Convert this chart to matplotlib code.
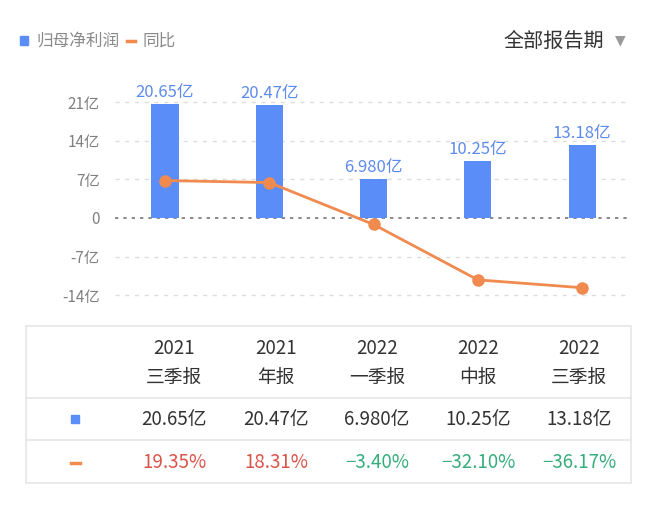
import matplotlib
matplotlib.use("Agg")
import matplotlib.pyplot as plt
from matplotlib.ticker import FuncFormatter
from matplotlib.patches import Rectangle
from matplotlib.lines import Line2D

plt.rcParams["font.family"] = ["Noto Sans CJK SC", "DejaVu Sans"]

years = ["2021", "2021", "2022", "2022", "2022"]
periods = ["三季报", "年报", "一季报", "中报", "三季报"]
profit = [20.65, 20.47, 6.980, 10.25, 13.18]          # 亿
profit_labels = ["20.65亿", "20.47亿", "6.980亿", "10.25亿", "13.18亿"]
yoy = [19.35, 18.31, -3.40, -32.10, -36.17]           # %
yoy_labels = ["19.35%", "18.31%", "−3.40%", "−32.10%", "−36.17%"]
yticks = [-14, -7, 0, 7, 14, 21]

BLUE = "#5B8DF8"
ORANGE = "#F08A4F"
RED = "#DA5549"
GREEN = "#36AE7C"

W, H = 657, 515
fig = plt.figure(figsize=(W / 100, H / 100), dpi=100)


def fx(px):
    return px / W


def fy(py):
    return 1 - py / H


# main chart
ax = fig.add_axes([fx(115), fy(310), fx(628) - fx(115), fy(85) - fy(310)])
x = list(range(len(profit)))
ax.bar(x, profit, width=0.26, color=BLUE, zorder=2)
for xi, v, lab in zip(x, profit, profit_labels):
    ax.text(xi, v + 0.6, lab, ha="center", va="bottom", fontsize=12, color="#5E8BEB")

ax.set_xlim(-0.48, 4.44)
ax.set_ylim(-16.7, 24.1)
ax.set_yticks(yticks)
ax.yaxis.set_major_formatter(FuncFormatter(lambda v, p: "0" if v == 0 else f"{int(v)}亿"))
ax.set_xticks([])
ax.tick_params(axis="y", length=0, pad=11, labelsize=11, labelcolor="#808080")
for s in ax.spines.values():
    s.set_visible(False)
for t in yticks:
    if t == 0:
        ax.axhline(0, color="#777777", lw=1.2, ls=(0, (2, 3)), zorder=1)
    else:
        ax.axhline(t, color="#dddddd", lw=1, ls=(0, (3, 4)), zorder=1)

# yoy line on hidden secondary scale
k = 0.35
ax2 = ax.twinx()
ax2.plot(x, yoy, color=ORANGE, lw=2, marker="o", markersize=8, zorder=3)
ax2.set_ylim(-16.7 / k, 24.1 / k)
ax2.set_yticks([])
for s in ax2.spines.values():
    s.set_visible(False)

# legend and period selector
fig.patches.append(Rectangle((fx(20), fy(45)), fx(8), fy(36) - fy(45), color=BLUE,
                             transform=fig.transFigure))
fig.text(fx(36), fy(41), "归母净利润", fontsize=12, color="#8a8a8a", va="center")
fig.lines.append(Line2D([fx(127), fx(135)], [fy(41), fy(41)], color=ORANGE, lw=2.5,
                        transform=fig.transFigure))
fig.text(fx(143), fy(41), "同比", fontsize=12, color="#8a8a8a", va="center")
fig.text(fx(604), fy(41), "全部报告期", fontsize=14.5, color="#333333", va="center", ha="right")
fig.text(fx(620), fy(40), "▼", fontsize=10, color="#9a9a9a", va="center", ha="center",
         family=["DejaVu Sans"], transform=fig.transFigure)

# table
col_x = [174, 276, 377, 478, 579]
border = "#e6e6e6"
fig.patches.append(Rectangle((fx(26), fy(483)), fx(631) - fx(26), fy(326) - fy(483),
                             fill=False, ec=border, lw=1.2, transform=fig.transFigure))
for yl in [398, 440]:
    fig.lines.append(Line2D([fx(26), fx(631)], [fy(yl), fy(yl)], color=border, lw=1.2,
                            transform=fig.transFigure))
for cx, yr, pr, pl, yl, v in zip(col_x, years, periods, profit_labels, yoy_labels, yoy):
    fig.text(fx(cx), fy(348), yr, ha="center", va="center", fontsize=13.5, color="#333333")
    fig.text(fx(cx), fy(377), pr, ha="center", va="center", fontsize=13.5, color="#333333")
    fig.text(fx(cx), fy(419), pl, ha="center", va="center", fontsize=13.5, color="#333333")
    fig.text(fx(cx), fy(463), yl, ha="center", va="center", fontsize=13.5,
             color=RED if v >= 0 else GREEN)
fig.patches.append(Rectangle((fx(71), fy(423)), fx(8), fy(415) - fy(423), color=BLUE,
                             transform=fig.transFigure))
fig.lines.append(Line2D([fx(71), fx(80)], [fy(463), fy(463)], color=ORANGE, lw=2.5,
                        transform=fig.transFigure))

fig.savefig("out.png", dpi=100)
